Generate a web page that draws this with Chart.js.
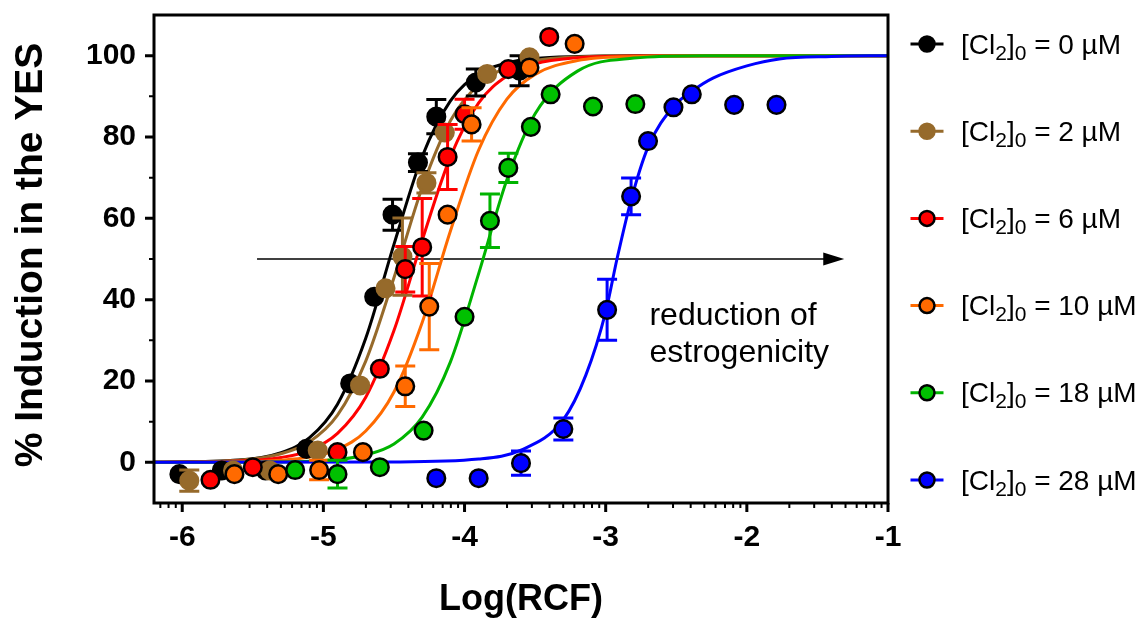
<!DOCTYPE html>
<html>
<head>
<meta charset="utf-8">
<script src="https://cdn.jsdelivr.net/npm/chart.js@4.4.1/dist/chart.umd.min.js"></script>
<style>
  html, body { margin: 0; padding: 0; background: #fff; }
  #wrap { width: 1148px; height: 621px; }
</style>
</head>
<body>
<div id="wrap"><canvas id="chart" width="1148" height="621"></canvas></div>
<script>
// chlorine doses of the six series (µM)
const doses = ['0', '2', '6', '10', '18', '28'];
const fillColors = ['#000000', '#966a2b', '#ff0000', '#ff6a00', '#00c000', '#0000ff'];
const lineColors = ['#000000', '#966a2b', '#ff0000', '#ff6a00', '#00b400', '#0000ff'];
const edgeColors = ['#000000', '#966a2b', '#000000', '#000000', '#000000', '#000000'];

// measured points: log(RCF), % induction, error (SEM)
const x0 = [-6.02, -5.72, -5.41, -5.12, -4.81, -4.64, -4.51, -4.33, -4.20, -3.92, -3.61];
const y0 = [-2.9, -2.0, -2.0, 3.3, 19.4, 40.7, 60.9, 73.7, 85.0, 93.4, 96.3];
const e0 = [0, 0, 0, 0, 0, 0, 3.8, 2.2, 4.2, 3.3, 3.7];

const x1 = [-5.95, -5.64, -5.38, -5.04, -4.74, -4.56, -4.44, -4.27, -4.14, -3.84, -3.54];
const y1 = [-4.5, -2.0, -2.0, 2.9, 18.9, 42.8, 50.6, 68.7, 81.1, 95.5, 99.6];
const e1 = [2.6, 0, 0, 0, 0, 0, 9.5, 2.5, 0, 0, 0];

const x2 = [-5.80, -5.50, -4.90, -4.60, -4.42, -4.30, -4.12, -4.00, -3.69, -3.40];
const y2 = [-4.3, -1.2, 2.5, 23.0, 47.5, 52.9, 75.1, 85.6, 96.7, 104.6];
const e2 = [0, 0, 0, 0, 5.6, 12.0, 8.0, 3.7, 0, 0];

const x3 = [-5.63, -5.32, -5.03, -4.72, -4.42, -4.25, -4.12, -3.95, -3.54, -3.22];
const y3 = [-2.9, -2.9, -1.9, 2.5, 18.7, 38.3, 60.9, 83.1, 97.1, 102.9];
const e3 = [0, 0, 2.4, 0, 5.0, 10.6, 0, 4.1, 0, 0];

const x4 = [-5.20, -4.90, -4.60, -4.29, -4.00, -3.82, -3.69, -3.53, -3.39, -3.09, -2.79];
const y4 = [-1.9, -2.9, -1.2, 7.8, 35.8, 59.4, 72.4, 82.5, 90.5, 87.5, 88.1];
const e4 = [0, 3.4, 0, 0, 0, 6.6, 3.6, 0, 0, 0, 0];

const x5 = [-4.20, -3.90, -3.60, -3.30, -2.99, -2.82, -2.70, -2.52, -2.39, -2.09, -1.79];
const y5 = [-3.9, -3.9, -0.2, 8.2, 37.5, 65.4, 79.0, 87.3, 90.5, 87.9, 87.9];
const e5 = [0, 0, 3.0, 2.7, 7.5, 4.5, 0, 0, 0, 0, 0];

// fitted curves
const fitX = [-6.2, -5.6, -5.3, -5.1, -4.9, -4.7, -4.5, -4.3, -4.1, -3.9, -3.7, -3.5, -3.2, -2.8, -2.3, -1.0];
const fit0 = [0.03, 0.56, 2.4, 6.0, 14.3, 30.5, 53.6, 75.2, 88.9, 95.5, 98.2, 99.3, 99.8, 100, 100, 100];
const fit1 = [0.03, 0.52, 2.1, 5.0, 11.6, 24.9, 45.4, 67.6, 84.0, 92.9, 97.1, 98.8, 99.7, 100, 100, 100];
const fit2 = [0.02, 0.30, 1.2, 2.9, 7.1, 16.0, 32.4, 54.6, 75.1, 88.4, 95.0, 98.0, 99.5, 99.9, 100, 100];
const fit3 = [0.01, 0.13, 0.52, 1.3, 3.2, 7.7, 17.3, 34.4, 56.9, 76.8, 89.3, 95.4, 98.8, 99.8, 100, 100];
const fit4 = [0, 0.02, 0.1, 0.26, 0.68, 1.8, 4.5, 11.1, 24.7, 46.4, 69.5, 85.7, 96.2, 99.4, 100, 100];
const fit5X = [-6.2, -4.5, -3.9, -3.6, -3.3, -3.14, -3.0, -2.92, -2.82, -2.7, -2.52, -2.38, -2.24, -2.0, -1.77, -1.4, -1.0];
const fit5 = [0, 0.1, 0.8, 3.0, 10.5, 21.5, 37.0, 50.0, 64.5, 77.5, 87.5, 91.5, 94.5, 97.5, 99.2, 99.8, 100];

// axis ticks
const xMajor = [-6, -5, -4, -3, -2, -1];
const yMajor = [0, 20, 40, 60, 80, 100];
const yMinor = [10, 30, 50, 70, 90];

// annotation
const arrowFrom = -5.47, arrowTo = -1.31, arrowY = 50;
const noteX = -2.69, noteY = 33.7;
const noteLines = ['reduction of', 'estrogenicity'];

const FONT = '"Liberation Sans", Arial, Helvetica, sans-serif';

const pointsX = [x0, x1, x2, x3, x4, x5];
const pointsY = [y0, y1, y2, y3, y4, y5];
const pointsE = [e0, e1, e2, e3, e4, e5];
const fitsX = [fitX, fitX, fitX, fitX, fitX, fit5X];
const fitsY = [fit0, fit1, fit2, fit3, fit4, fit5];

const datasets = [];
doses.forEach((d, i) => {
    datasets.push({
        label: 'fit ' + d,
        data: fitsX[i].map((x, j) => ({ x: x, y: fitsY[i][j] })),
        showLine: true,
        borderColor: lineColors[i],
        borderWidth: 3,
        pointRadius: 0,
        cubicInterpolationMode: 'monotone',
        order: 12 - i
    });
});
doses.forEach((d, i) => {
    datasets.push({
        label: d + ' µM',
        data: pointsX[i].map((x, j) => ({ x: x, y: pointsY[i][j] })),
        errors: pointsE[i],
        errColor: lineColors[i],
        showLine: false,
        pointRadius: 8.8,
        pointBorderWidth: 2.5,
        backgroundColor: fillColors[i],
        borderColor: edgeColors[i],
        order: 6 - i
    });
});

// error bars, drawn just before each set of symbols
const errorBars = {
    id: 'errorBars',
    beforeDatasetDraw(chart, args) {
        const ds = chart.data.datasets[args.index];
        if (!ds.errors) return;
        const ctx = chart.ctx, y = chart.scales.y;
        ctx.save();
        ctx.strokeStyle = ds.errColor;
        ctx.lineWidth = 3;
        args.meta.data.forEach((pt, j) => {
            const e = ds.errors[j];
            if (!e) return;
            const v = ds.data[j].y;
            const top = y.getPixelForValue(v + e), bot = y.getPixelForValue(v - e);
            ctx.beginPath();
            ctx.moveTo(pt.x, top); ctx.lineTo(pt.x, bot);
            ctx.moveTo(pt.x - 10, top); ctx.lineTo(pt.x + 10, top);
            ctx.moveTo(pt.x - 10, bot); ctx.lineTo(pt.x + 10, bot);
            ctx.stroke();
        });
        ctx.restore();
    }
};

// arrow and note inside the plot
const annotation = {
    id: 'annotation',
    beforeDatasetsDraw(chart) {
        const { ctx, scales: { x, y } } = chart;
        const x1p = x.getPixelForValue(arrowFrom), x2p = x.getPixelForValue(arrowTo), yp = y.getPixelForValue(arrowY);
        ctx.save();
        ctx.strokeStyle = '#000';
        ctx.fillStyle = '#000';
        ctx.lineWidth = 1.5;
        ctx.beginPath();
        ctx.moveTo(x1p, yp); ctx.lineTo(x2p - 18, yp);
        ctx.stroke();
        ctx.beginPath();
        ctx.moveTo(x2p, yp); ctx.lineTo(x2p - 21, yp - 6.5); ctx.lineTo(x2p - 21, yp + 6.5);
        ctx.closePath();
        ctx.fill();
        ctx.font = '32px ' + FONT;
        ctx.textAlign = 'left';
        ctx.textBaseline = 'alphabetic';
        const tx = x.getPixelForValue(noteX), ty = y.getPixelForValue(noteY);
        noteLines.forEach((s, k) => ctx.fillText(s, tx, ty + k * 37));
        ctx.restore();
    }
};

// frame, tick marks, axis titles and legend
const decor = {
    id: 'decor',
    afterDraw(chart) {
        const { ctx, chartArea: a, scales: { x, y } } = chart;
        ctx.save();
        ctx.strokeStyle = '#000';
        ctx.lineWidth = 3;
        ctx.strokeRect(a.left, a.top, a.right - a.left, a.bottom - a.top);

        ctx.beginPath();
        xMajor.forEach(v => { const p = x.getPixelForValue(v); ctx.moveTo(p, a.bottom); ctx.lineTo(p, a.bottom + 9); });
        yMajor.forEach(v => { const p = y.getPixelForValue(v); ctx.moveTo(a.left, p); ctx.lineTo(a.left - 9, p); });
        ctx.stroke();

        ctx.lineWidth = 2;
        ctx.beginPath();
        for (let d = -7; d <= -2; d++) {
            for (let k = 2; k <= 9; k++) {
                const v = d + Math.log10(k);
                if (v < x.min || v > x.max) continue;
                const p = x.getPixelForValue(v);
                ctx.moveTo(p, a.bottom); ctx.lineTo(p, a.bottom + 5);
            }
        }
        yMinor.forEach(v => { const p = y.getPixelForValue(v); ctx.moveTo(a.left, p); ctx.lineTo(a.left - 5, p); });
        ctx.stroke();

        // axis titles
        ctx.fillStyle = '#000';
        ctx.font = 'bold 36px ' + FONT;
        ctx.textAlign = 'center';
        ctx.textBaseline = 'alphabetic';
        ctx.fillText('Log(RCF)', (a.left + a.right) / 2, 610);
        ctx.save();
        ctx.translate(42, 255);
        ctx.rotate(-Math.PI / 2);
        ctx.font = 'bold 39px ' + FONT;
        ctx.fillText('% Induction in the YES', 0, 0);
        ctx.restore();

        // legend
        doses.forEach((d, i) => {
            const cy = 44 + i * 87.2;
            ctx.strokeStyle = lineColors[i];
            ctx.lineWidth = 3;
            ctx.beginPath();
            ctx.moveTo(910.5, cy); ctx.lineTo(943.5, cy);
            ctx.stroke();
            ctx.beginPath();
            ctx.arc(927, cy, 7.5, 0, Math.PI * 2);
            ctx.fillStyle = fillColors[i];
            ctx.fill();
            ctx.strokeStyle = edgeColors[i];
            ctx.lineWidth = 2.5;
            ctx.stroke();

            ctx.fillStyle = '#000';
            ctx.textAlign = 'left';
            const base = cy + 9.5;
            let tx = 961;
            const big = '28px ' + FONT, small = '21px ' + FONT;
            const parts = [['[Cl', big, 0], ['2', small, 6], [']', big, 0], ['0', small, 6], [' = ' + d + ' µM', big, 0]];
            parts.forEach(([s, f, dy]) => {
                ctx.font = f;
                ctx.fillText(s, tx, base + dy);
                tx += ctx.measureText(s).width;
            });
        });
        ctx.restore();
    }
};

new Chart(document.getElementById('chart'), {
    type: 'scatter',
    data: { datasets: datasets },
    options: {
        responsive: false,
        animation: false,
        devicePixelRatio: 1,
        layout: { padding: { top: 15, right: 260, left: 0, bottom: 0 } },
        plugins: { legend: { display: false }, tooltip: { enabled: false } },
        scales: {
            x: {
                type: 'linear',
                min: -6.2,
                max: -1,
                afterFit: s => { s.height = 118; s.paddingLeft = 0; s.paddingRight = 0; },
                afterBuildTicks: s => { s.ticks = xMajor.map(v => ({ value: v })); },
                grid: { display: false, drawTicks: false },
                border: { display: false },
                ticks: {
                    padding: 17,
                    color: '#000',
                    font: { family: FONT, size: 30, weight: 'bold' },
                    maxRotation: 0,
                    callback: v => String(v)
                }
            },
            y: {
                type: 'linear',
                min: -10,
                max: 110,
                afterFit: s => { s.width = 154; s.paddingTop = 0; s.paddingBottom = 0; },
                afterBuildTicks: s => { s.ticks = yMajor.map(v => ({ value: v })); },
                grid: { display: false, drawTicks: false },
                border: { display: false },
                ticks: {
                    padding: 18,
                    color: '#000',
                    font: { family: FONT, size: 30, weight: 'bold' },
                    callback: v => String(v)
                }
            }
        }
    },
    plugins: [errorBars, annotation, decor]
});
</script>
</body>
</html>
